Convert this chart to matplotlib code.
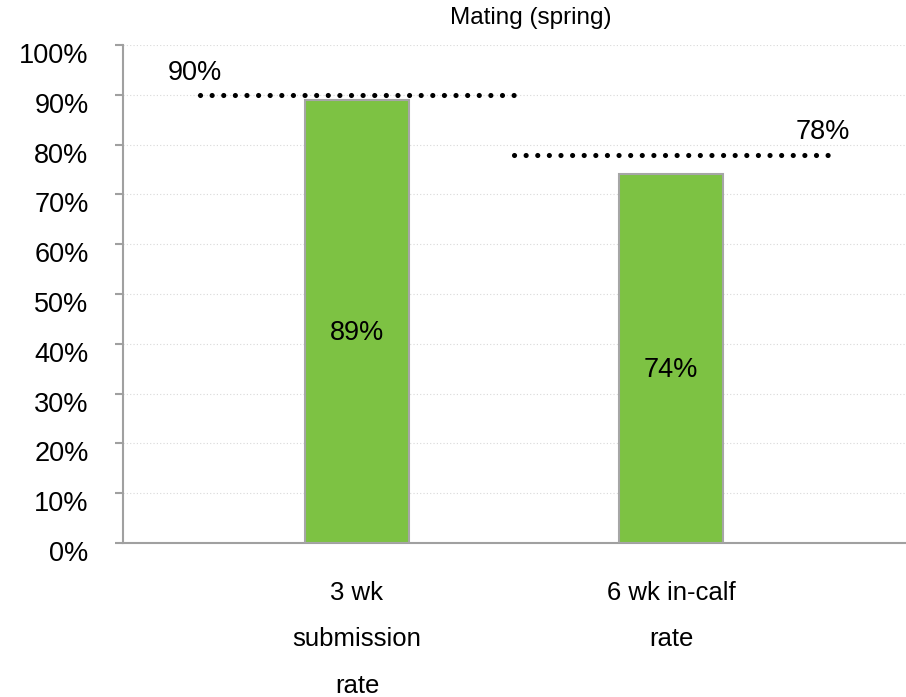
import matplotlib.pyplot as plt
import matplotlib.transforms as mtransforms
import numpy as np

plt.rcParams['font.family'] = ['Liberation Sans', 'DejaVu Sans']

categories = ['3 wk\nsubmission\nrate', '6 wk in-calf\nrate']
values = [89, 74]
targets = [90, 78]
yticks = list(range(0, 101, 10))
title = 'Mating (spring)'

fig = plt.figure(figsize=(9.06, 6.97), dpi=100)
ax = fig.add_axes([123 / 906, 1 - 543 / 697, 1 - 123 / 906, (543 - 45) / 697])

x = np.arange(len(categories))
bars = ax.bar(x, values, width=0.331, color='#7DC243', edgecolor='#A6A6A6',
              linewidth=1.5, zorder=3)

# value labels, sitting a bit below the middle of each bar
for b, v in zip(bars, values):
    ax.annotate(f'{v}%', (b.get_x() + b.get_width() / 2, v / 2),
                xytext=(0, -8), textcoords='offset points',
                ha='center', va='center', fontsize=19.5, color='black', zorder=4)

# target lines, one category wide, label at the outer end
for i, t in enumerate(targets):
    x0, x1 = i - 0.5, i + 0.5
    ax.plot([x0, x1], [t, t], color='black', linewidth=3.7,
            linestyle=(0, (0.01, 2.25)), dash_capstyle='round', zorder=5)
    xa = x0 if i == 0 else x1
    ax.annotate(f'{t}%', (xa, t), xytext=(-3.5, 16), textcoords='offset points',
                ha='center', va='center', fontsize=19.5, color='black')

ax.set_xlim(-0.745, 1.748)
ax.set_ylim(0, 100)
ax.set_yticks(yticks)
ax.set_yticklabels([f'{v}%' for v in yticks])
ax.set_xticks(x)
ax.set_xticklabels(categories, linespacing=2.2)
ax.grid(axis='y', color='#D9D9D9', linestyle=(0, (1, 2)), linewidth=0.8, zorder=0)

for side in ['top', 'right']:
    ax.spines[side].set_visible(False)
for side in ['left', 'bottom']:
    ax.spines[side].set_color('#A0A0A0')
    ax.spines[side].set_linewidth(1.5)

ax.tick_params(axis='y', length=5.8, width=1.5, color='#A0A0A0',
               labelsize=19.5, pad=19)
ax.tick_params(axis='x', length=0, labelsize=18.5, pad=27)

# shift y tick labels down a little
shift = mtransforms.ScaledTranslation(0, -8 / 100, fig.dpi_scale_trans)
for lab in ax.get_yticklabels():
    lab.set_transform(lab.get_transform() + shift)

fig.text(531 / 906, 1 - 18 / 697, title, ha='center', va='center', fontsize=17.5)

fig.savefig('out.png', dpi=100)
